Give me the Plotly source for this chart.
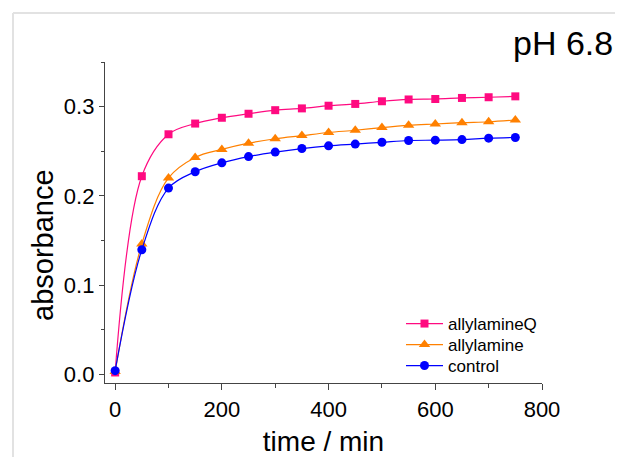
import plotly.graph_objects as go

time_min = [0, 50, 100, 150, 200, 250, 300, 350, 400, 450, 500, 550, 600, 650, 700, 750]
allylamineQ = [0.002, 0.222, 0.269, 0.281, 0.2875, 0.292, 0.296, 0.298, 0.301, 0.303,
               0.306, 0.308, 0.3085, 0.3097, 0.3105, 0.3115]
allylamine = [0.003, 0.146, 0.220, 0.243, 0.252, 0.259, 0.264, 0.2675, 0.271, 0.2735,
              0.2765, 0.279, 0.2805, 0.282, 0.283, 0.285]
control = [0.004, 0.1396, 0.2087, 0.227, 0.237, 0.244, 0.249, 0.253, 0.256, 0.258,
           0.260, 0.262, 0.2624, 0.263, 0.2646, 0.2654]

series = [
    ("allylamineQ", allylamineQ, "#ff0a80", "square", 8),
    ("allylamine", allylamine, "#ff8000", "triangle-up", 10),
    ("control", control, "#0000ff", "circle", 9),
]

FONT = "Liberation Sans, Arial, sans-serif"

# page pixel -> paper coords (plot area spans x 105..542, y 62..383 in page pixels)
def px(x):
    return (x - 105) / 437

def py(y):
    return (383 - y) / 321

legend_rows = [324, 345, 366]

fig = go.Figure()
legend_layouts = {}
for i, (name, vals, color, sym, size) in enumerate(series):
    lname = "legend" if i == 0 else f"legend{i + 1}"
    fig.add_trace(go.Scatter(
        x=time_min, y=vals, name=name, mode="lines+markers",
        line=dict(color=color, width=1.2, shape="spline", smoothing=1.0),
        marker=dict(color=color, symbol=sym, size=size),
        legend=lname,
    ))
    legend_layouts[lname] = dict(
        x=px(401), y=py(legend_rows[i]), xanchor="left", yanchor="middle",
        font=dict(family=FONT, size=17, color="black"),
        bgcolor="rgba(0,0,0,0)", itemwidth=37,
    )

axis_common = dict(
    showline=True, linecolor="#444", linewidth=1.3,
    ticks="outside", tickcolor="#444", tickwidth=1.3,
    showgrid=False, zeroline=False, automargin=False,
    tickfont=dict(family=FONT, size=22, color="black"),
)

fig.update_xaxes(
    range=[-19, 800], tickvals=[0, 200, 400, 600, 800], ticklen=6,
    minor=dict(tickvals=[100, 300, 500, 700], ticklen=4, ticks="outside", tickcolor="#444", tickwidth=1.3),
    title=dict(text="time / min", font=dict(family=FONT, size=28, color="black"), standoff=16),
    **axis_common,
)
fig.update_yaxes(
    range=[-0.0098, 0.35], tickvals=[0, 0.1, 0.2, 0.3], tickformat=".1f", ticklen=5,
    minor=dict(tickvals=[0.05, 0.15, 0.25, 0.35], ticklen=3, ticks="outside", tickcolor="#444", tickwidth=1.3),
    **axis_common,
)

# y-axis title (placed lower than the plot centre, as in the reference)
fig.add_annotation(
    text="absorbance", xref="paper", yref="paper",
    x=px(43), y=py(245), xanchor="center", yanchor="middle", textangle=-90,
    showarrow=False, font=dict(family=FONT, size=29, color="black"),
)

fig.add_annotation(
    text="pH 6.8", xref="paper", yref="paper",
    x=px(615), y=py(43), xanchor="right", yanchor="middle",
    showarrow=False, font=dict(family=FONT, size=34, color="black"),
)

# light frame
fig.add_shape(type="line", xref="paper", yref="paper", x0=px(13), x1=px(640), y0=py(13), y1=py(13),
              line=dict(color="#e2e2e2", width=2))
fig.add_shape(type="line", xref="paper", yref="paper", x0=px(13), x1=px(13), y0=py(13), y1=py(480),
              line=dict(color="#e2e2e2", width=2))

# the page body adds an 8px offset; figure sized to fit inside the window
fig.update_layout(
    width=615, height=449,
    margin=dict(l=97, r=81, t=54, b=74),
    paper_bgcolor="white", plot_bgcolor="white",
    showlegend=True,
    **legend_layouts,
)

fig.write_html("out.html")
